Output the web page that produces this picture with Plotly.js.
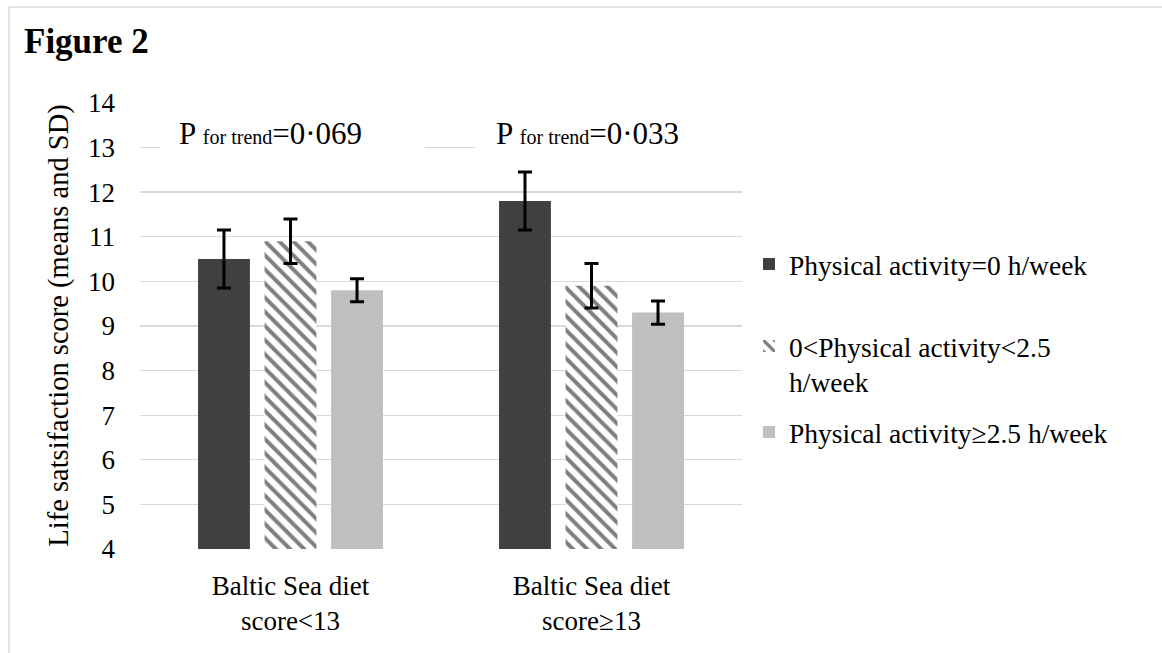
<!DOCTYPE html>
<html>
<head>
<meta charset="utf-8">
<script src="https://cdn.plot.ly/plotly-3.0.1.min.js"></script>
<style>
html,body{margin:0;padding:0;background:#fff}
#chart{width:1162px;height:653px}
#chart text{font-family:"Liberation Serif","Times New Roman",serif !important;}
</style>
</head>
<body>
<div id="chart"></div>
<script>
var categories = ["Baltic Sea diet<br>score<13", "Baltic Sea diet<br>score≥13"];
var seriesNames = ["Physical activity=0 h/week", "0<Physical activity<2.5<br>h/week", "Physical activity≥2.5 h/week"];
var pa0Means = [10.5, 11.8];
var pa0SD = [0.65, 0.65];
var paLowMeans = [10.9, 9.9];
var paLowSD = [0.5, 0.5];
var paHighMeans = [9.8, 9.3];
var paHighSD = [0.26, 0.26];
var pTrendLabels = ["0·069", "0·033"];

var FONT = "Liberation Serif";
var err = function(a){return {type:'data', array:a, visible:true, color:'#000', thickness:3, width:7};};

var traces = [
  {type:'bar', name:seriesNames[0], x:categories, y:pa0Means, error_y:err(pa0SD),
   marker:{color:'#404040'}, legend:'legend'},
  {type:'bar', name:seriesNames[1], x:categories, y:paLowMeans, error_y:err(paLowSD),
   marker:{color:'#808080', pattern:{shape:'\\', fillmode:'replace', bgcolor:'#ffffff', fgcolor:'#7f7f7f', size:10, solidity:0.4}}, legend:'legend2'},
  {type:'bar', name:seriesNames[2], x:categories, y:paHighMeans, error_y:err(paHighSD),
   marker:{color:'#bfbfbf'}, legend:'legend3'}
];

var L = 140, T = 102, W = 602, H = 447;
var YMIN = 4, YMAX = 14.02;
function px(x){return (x - L)/W;}
function py(y){return (T + H - y)/H;}

var legBase = {xref:'paper', yref:'paper', x:px(749), xanchor:'left', yanchor:'middle',
  font:{family:FONT, size:27.5, color:'#000'}, bgcolor:'rgba(0,0,0,0)', borderwidth:0, valign:'top'};

var layout = {
  width:1162, height:653,
  margin:{l:L, r:1162-L-W, t:T, b:653-T-H},
  paper_bgcolor:'#fff', plot_bgcolor:'#fff',
  font:{family:FONT, size:27, color:'#000'},
  barmode:'group', bargap:0.337, bargroupgap:0.22,
  title:{text:'<b>Figure 2</b>', font:{family:FONT, size:35, color:'#000'},
    x:24/1162, xanchor:'left', xref:'container', y:1-41/653, yanchor:'middle', yref:'container'},
  xaxis:{type:'category', showgrid:false, showline:false, zeroline:false, ticks:'',
    tickfont:{family:FONT, size:27, color:'#000'}, ticklabelstandoff:18},
  yaxis:{range:[YMIN, YMAX], dtick:1, tick0:4, showgrid:true, gridcolor:'#d9d9d9', gridwidth:1.3,
    zeroline:false, showline:false, ticks:'', ticklabelstandoff:24,
    tickfont:{family:FONT, size:27, color:'#000'},
    title:{text:'Life satsifaction score (means and SD)', font:{family:FONT, size:28.5, color:'#000'}, standoff:11}},
  showlegend:true,
  legend:Object.assign({}, legBase, {y:py(264)}),
  legend2:Object.assign({}, legBase, {y:py(364)}),
  legend3:Object.assign({}, legBase, {y:py(432)}),
  shapes:[
    {type:'rect', xref:'paper', yref:'paper', x0:px(160), x1:px(425), y0:py(154), y1:py(96), fillcolor:'#fff', line:{width:0}, layer:'above'},
    {type:'rect', xref:'paper', yref:'paper', x0:px(475), x1:px(748), y0:py(154), y1:py(96), fillcolor:'#fff', line:{width:0}, layer:'above'},
    {type:'line', xref:'paper', yref:'paper', x0:px(9), x1:px(1162), y0:py(7), y1:py(7), line:{color:'#d9d9d9', width:1.5}},
    {type:'line', xref:'paper', yref:'paper', x0:px(9), x1:px(9), y0:py(7), y1:py(653), line:{color:'#d9d9d9', width:1.5}}
  ],
  annotations:[
    {xref:'paper', yref:'paper', x:px(270), y:py(133), xanchor:'center', yanchor:'middle', showarrow:false,
     text:'P <span style="font-size:20px">for trend</span>=' + pTrendLabels[0], font:{family:FONT, size:31, color:'#000'}},
    {xref:'paper', yref:'paper', x:px(587), y:py(133), xanchor:'center', yanchor:'middle', showarrow:false,
     text:'P <span style="font-size:20px">for trend</span>=' + pTrendLabels[1], font:{family:FONT, size:31, color:'#000'}}
  ]
};

Plotly.newPlot('chart', traces, layout, {staticPlot:true, displayModeBar:false});
</script>
</body>
</html>
